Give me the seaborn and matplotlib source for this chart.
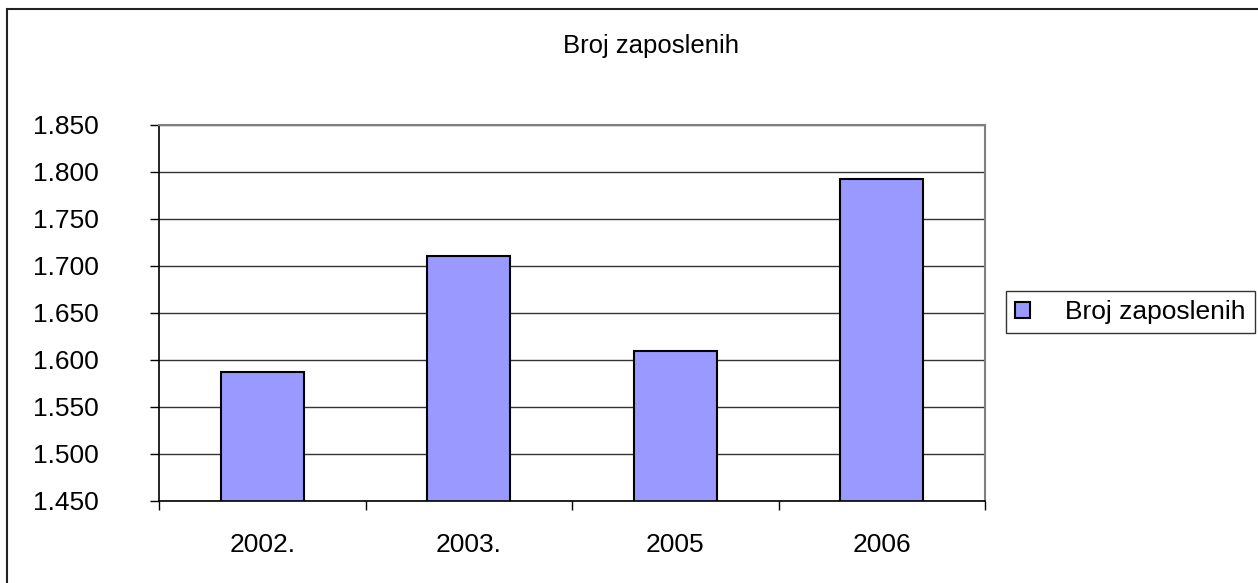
import matplotlib
matplotlib.use("Agg")
import matplotlib.pyplot as plt
import seaborn as sns
import pandas as pd
from matplotlib.patches import Rectangle
from matplotlib.ticker import FixedLocator, FuncFormatter

# podaci
godine = ["2002.", "2003.", "2005", "2006"]
broj_zaposlenih = [1587, 1711, 1609, 1793]
naslov = "Broj zaposlenih"

sns.set_theme(style="white")
plt.rcParams["font.family"] = ["Liberation Sans", "DejaVu Sans"]
plt.rcParams["text.color"] = "black"

W, H = 1258, 583
fig = plt.figure(figsize=(W / 100, H / 100), dpi=100)
ax = fig.add_axes([159 / W, 1 - 500.7 / H, (985 - 159) / W, (500.7 - 125) / H])

df = pd.DataFrame({"godina": godine, "broj": broj_zaposlenih})
sns.barplot(data=df, x="godina", y="broj", color="#9999FF", saturation=1,
            edgecolor="black", linewidth=1.5, width=0.4, label=naslov, ax=ax)

ax.set_ylim(1450, 1850)
ax.set_xlim(-0.5, len(godine) - 0.5)
ax.set_yticks(range(1450, 1851, 50))
ax.yaxis.set_major_formatter(FuncFormatter(lambda v, p: f"{v:,.0f}".replace(",", ".")))
ax.grid(axis="y", color="#333333", linewidth=1.0)
ax.set_axisbelow(True)
ax.set_xlabel("")
ax.set_ylabel("")

# kategorije: oznake u sredini, crtice na granicama
ax.xaxis.set_minor_locator(FixedLocator([i - 0.5 for i in range(len(godine) + 1)]))
ax.tick_params(axis="x", which="major", length=0, pad=23, labelsize=19, labelcolor="black")
ax.tick_params(axis="x", which="minor", bottom=True, length=6.5, width=1, color="black", direction="out")
ax.tick_params(axis="y", which="major", left=True, length=6.5, width=1, color="black",
               direction="out", pad=37, labelsize=19, labelcolor="black")

for s in ["left", "bottom"]:
    ax.spines[s].set_color("black")
    ax.spines[s].set_linewidth(1.2)
for s in ["top", "right"]:
    ax.spines[s].set_color("#808080")
    ax.spines[s].set_linewidth(1.5)

fig.text(651 / W, 1 - 46 / H, naslov, ha="center", va="center", fontsize=18.5, color="black")

leg = ax.legend(loc="center left", bbox_to_anchor=(1006 / W, 1 - 312 / H),
                bbox_transform=fig.transFigure, fontsize=19, frameon=True,
                fancybox=False, edgecolor="black", borderaxespad=0, borderpad=0.35,
                handlelength=0.55, handleheight=0.55, handletextpad=1.35)
leg.get_frame().set_linewidth(1.0)
for t in leg.get_texts():
    t.set_color("black")

# okvir grafikona
fig.patches.append(Rectangle((7 / W, -0.1), 1.2, 1.1 - 9 / H, transform=fig.transFigure,
                             fill=False, edgecolor="#222222", linewidth=1.5))

fig.savefig("out.png", dpi=100)
